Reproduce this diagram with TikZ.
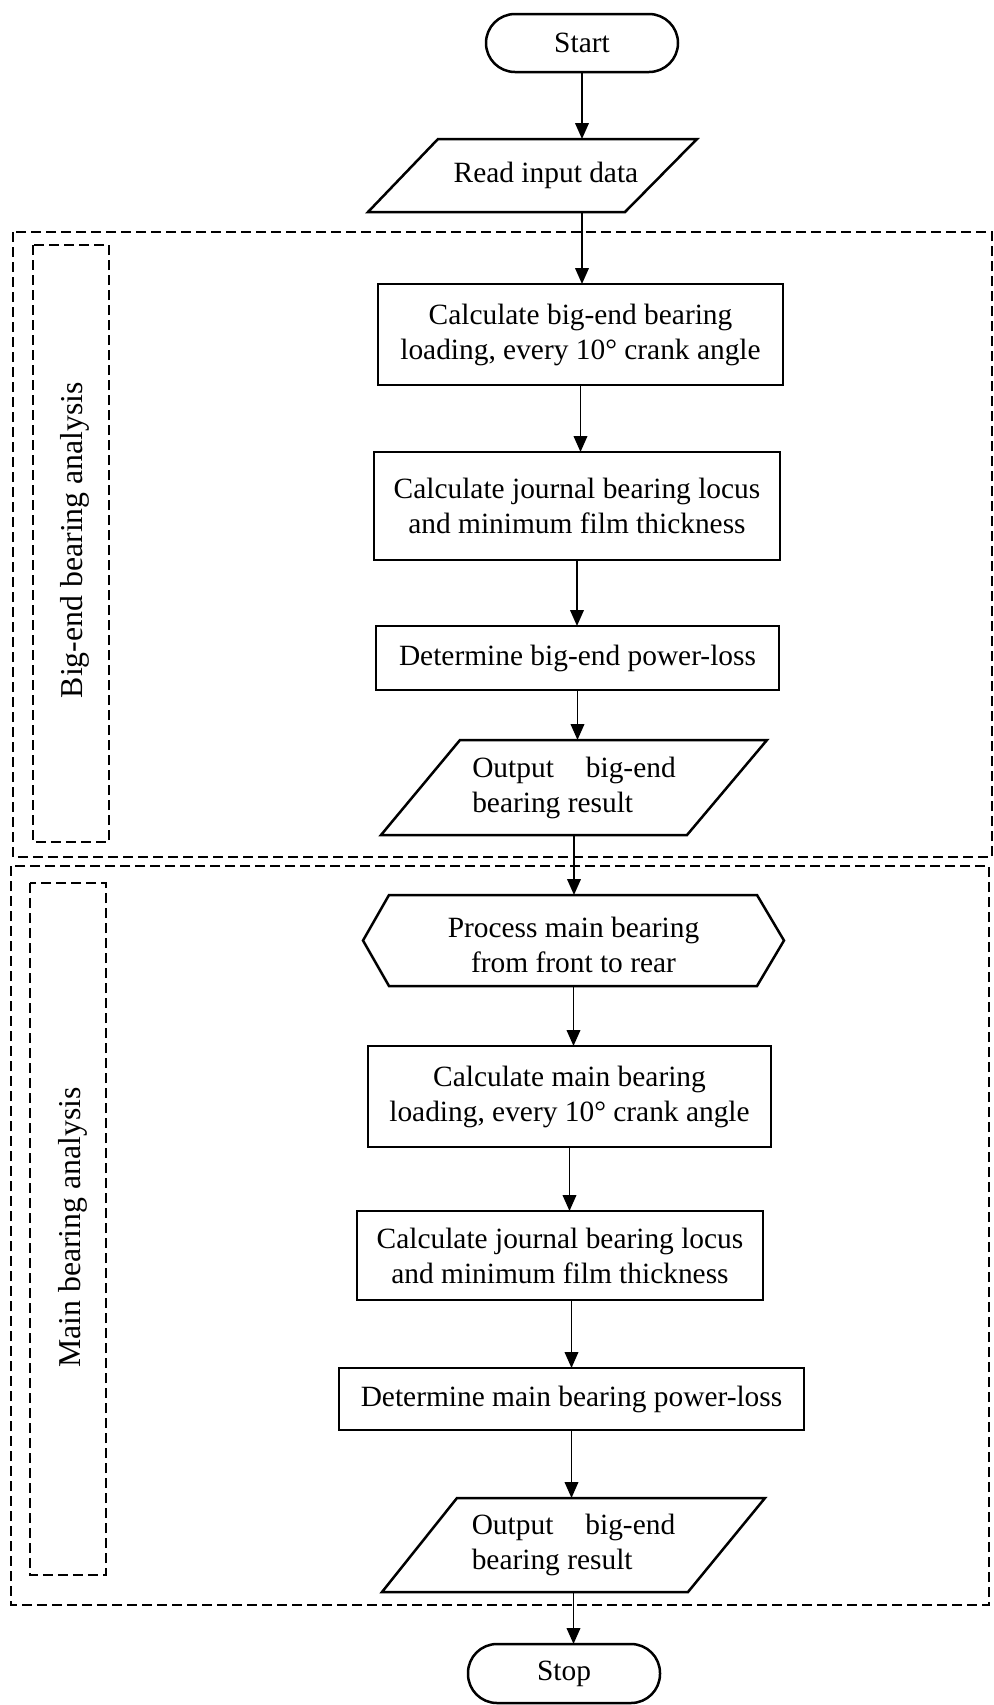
\documentclass[tikz,border=0pt]{standalone}
\usepackage{fontspec}
\setmainfont{Liberation Serif}
\usetikzlibrary{arrows.meta}
\begin{document}
\begin{tikzpicture}[x=0.5pt,y=-0.5pt,
  txt/.style={font=\fontsize{14.7pt}{17.5pt}\selectfont, align=center, inner sep=0pt, outer sep=0pt},
  proc/.style={txt, draw, line width=1.25pt, rectangle},
  term/.style={proc, rounded corners=14.5pt},
  outline/.style={line width=1.25pt, line join=miter},
  arr/.style={line width=0.95pt, -{Triangle[length=8pt,width=6.8pt]}},
  group/.style={line width=1pt, dash pattern=on 5pt off 2.5pt},
  grouplabel/.style={font=\fontsize{15.9pt}{18pt}\selectfont, rotate=90, inner sep=0pt}
]
\useasboundingbox (0,0) rectangle (994,1705);

% analysis groups
\draw[group] (13,232) rectangle (992,857);
\draw[group] (11,866) rectangle (989,1605);
\draw[group] (33,245) rectangle (109,842);
\draw[group] (30,883) rectangle (106,1575);
\node[grouplabel] (lab1) at (74.5,540) {Big-end bearing analysis};
\node[grouplabel] (lab2) at (72.5,1227.5) {Main bearing analysis};

% terminals
\node[term, minimum width=96pt, minimum height=29pt] (start) at (582,43) {Start};
\node[term, minimum width=96pt, minimum height=29.5pt] (stop) at (564,1673.5) {Stop};

% input
\node[txt, minimum width=164.5pt, minimum height=36.5pt] (read) at (532.5,175.5) {\hspace{13.5pt}Read input data};
\draw[outline] ([xshift=35pt]read.north west) -- (read.north east)
  -- ([xshift=-36pt]read.south east) -- (read.south west) -- cycle;

% big-end bearing steps
\node[proc, minimum width=202.5pt, minimum height=50.5pt] (calc1) at (580.5,334.5)
  {Calculate big-end bearing\\loading, every 10° crank angle};
\node[proc, minimum width=203pt, minimum height=54pt] (jour1) at (577,506)
  {Calculate journal bearing locus\\and minimum film thickness};
\node[proc, minimum width=201.5pt, minimum height=32pt] (det1) at (577.5,658)
  {Determine big-end power-loss};
\node[txt, align=left, minimum width=193pt, minimum height=47.5pt] (out1) at (574,787.5)
  {Output\hspace{16pt}big-end\\bearing result};
\draw[outline] ([xshift=39.5pt]out1.north west) -- (out1.north east)
  -- ([xshift=-40pt]out1.south east) -- (out1.south west) -- cycle;

% main bearing steps
\node[txt, minimum width=210.5pt, minimum height=45.5pt] (proc) at (573.5,940.5)
  {\raisebox{-3.5pt}[\height][\depth]{\begin{tabular}{@{}c@{}}Process main bearing\\from front to rear\end{tabular}}};
\draw[outline] ([xshift=13pt]proc.north west) -- ([xshift=-13.5pt]proc.north east)
  -- (proc.east) -- ([xshift=-13.5pt]proc.south east) -- ([xshift=13pt]proc.south west)
  -- (proc.west) -- cycle;
\node[proc, minimum width=201.5pt, minimum height=50.5pt] (calc2) at (569.5,1096.5)
  {Calculate main bearing\\loading, every 10° crank angle};
\node[proc, minimum width=203pt, minimum height=44.5pt] (jour2) at (560,1255.5)
  {Calculate journal bearing locus\\and minimum film thickness};
\node[proc, minimum width=232.5pt, minimum height=31pt] (det2) at (571.5,1399)
  {Determine main bearing power-loss};
\node[txt, align=left, minimum width=191.5pt, minimum height=47pt] (out2) at (573.5,1545)
  {Output\hspace{16pt}big-end\\bearing result};
\draw[outline] ([xshift=37.5pt]out2.north west) -- (out2.north east)
  -- ([xshift=-38.5pt]out2.south east) -- (out2.south west) -- cycle;

% flow
\draw[arr] (start.south) -- (start.south |- read.north);
\draw[arr] (start.south |- read.south) -- (start.south |- calc1.north);
\draw[arr] (calc1.south) -- (calc1.south |- jour1.north);
\draw[arr] (jour1.south) -- (jour1.south |- det1.north);
\draw[arr] (det1.south) -- (det1.south |- out1.north);
\draw[arr] (out1.south) -- (out1.south |- proc.north);
\draw[arr] (proc.south) -- (proc.south |- calc2.north);
\draw[arr] (calc2.south) -- (calc2.south |- jour2.north);
\draw[arr] (det2.north |- jour2.south) -- (det2.north);
\draw[arr] (det2.south) -- (det2.south |- out2.north);
\draw[arr] (out2.south) -- (out2.south |- stop.north);
\end{tikzpicture}
\end{document}
